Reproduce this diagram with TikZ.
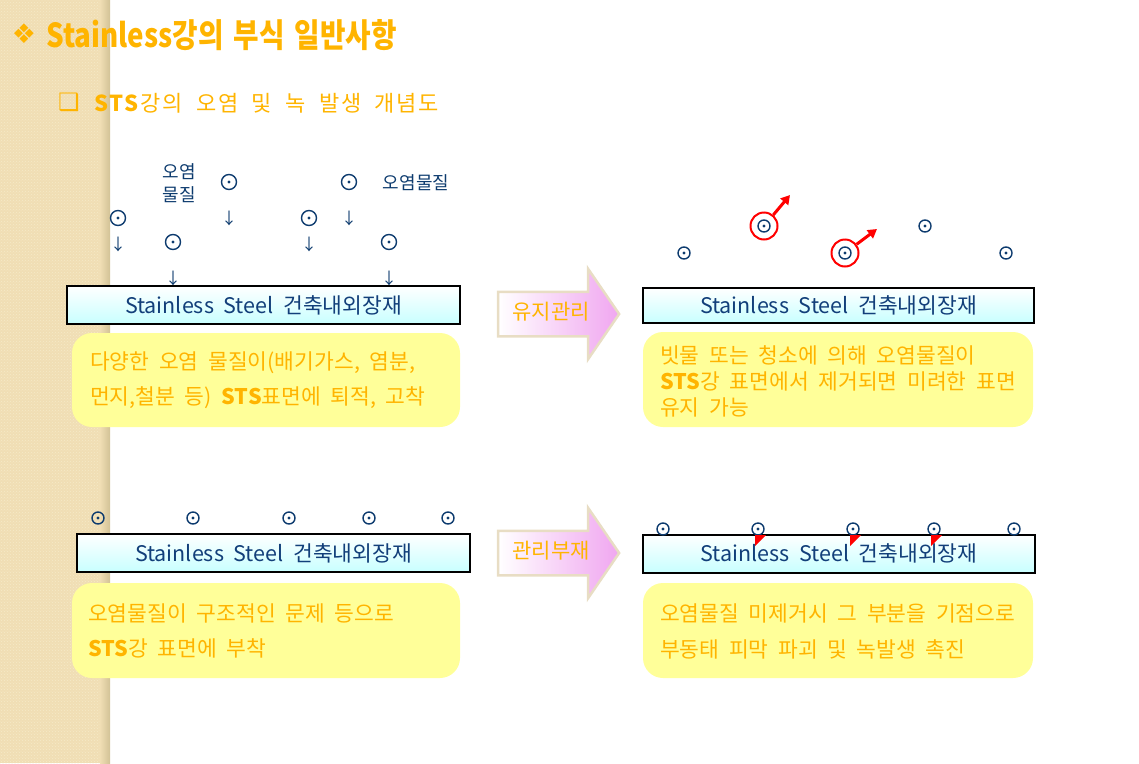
\documentclass[tikz,border=0pt]{standalone}
\usepackage{fontspec}
\setmainfont[WordSpace=2]{Noto Sans CJK KR}
\newfontfamily\titlefont[FakeStretch=0.84,WordSpace=1.6]{Noto Sans CJK KR}
\newfontfamily\subfont[WordSpace=2,LetterSpace=8]{Noto Sans CJK KR}
\newfontfamily\symfont{DejaVu Sans}
\usetikzlibrary{shapes.arrows,arrows.meta,patterns}

\definecolor{stsorange}{RGB}{255,180,0}
\definecolor{steelblue}{RGB}{18,63,122}
\definecolor{steelcyan}{RGB}{200,255,255}
\definecolor{dustblue}{RGB}{13,59,110}
\definecolor{notefill}{RGB}{255,255,153}
\definecolor{arrowpink}{RGB}{240,166,240}
\definecolor{arrowedge}{RGB}{232,221,196}
\definecolor{stripbeige}{RGB}{240,222,180}
\definecolor{stripdot}{RGB}{246,233,200}
\definecolor{stripedge}{RGB}{210,194,150}

\begin{document}
\begin{tikzpicture}[x=1pt,y=-1pt,
  steel/.style={draw=black, line width=2pt, shading=axis, top color=white, bottom color=steelcyan,
    inner sep=0pt, text=steelblue, font=\fontsize{21.5}{21.5}\selectfont},
  note/.style={fill=notefill, rounded corners=20pt, inner sep=0pt},
  notetext/.style={anchor=west, align=left, inner sep=0pt, text=stsorange},
  dust/.style={circle, draw=dustblue, line width=1.4pt, minimum size=12pt, inner sep=0pt,
    path picture={\fill[dustblue] (path picture bounding box.center) circle (1.6pt);}},
  bigdust/.style={dust, minimum size=15pt},
  fall/.style={inner sep=0pt, text=dustblue, font=\fontsize{16}{16}\selectfont},
  tag/.style={inner sep=0pt, align=center, text=dustblue, font=\fontsize{18}{23}\selectfont},
  stage/.style={single arrow, draw=arrowedge, line width=2.5pt, left color=white, right color=arrowpink,
    minimum height=121pt, single arrow head extend=23pt, single arrow tip angle=111,
    text height=13pt, text depth=3pt, inner ysep=13pt, text=stsorange, font=\fontsize{21}{21}\selectfont},
  wipe/.style={circle, draw=red, line width=2pt, minimum size=27pt, inner sep=0pt},
  lift/.style={-{Triangle[length=9pt,width=10pt]}, red, line width=3pt}
]
\useasboundingbox (0,0) rectangle (1139,763);

% left strip
\fill[stripbeige] (0,0) rectangle (110,763);
\fill[pattern=crosshatch dots, pattern color=stripdot] (0,0) rectangle (104,763);
\shade[left color=stripbeige, right color=stripedge] (100,0) rectangle (110,763);

% headings
\node[inner sep=0pt, text=stsorange, font=\symfont\bfseries\fontsize{27}{27}\selectfont] (mark1) at (24,34) {❖};
\node[anchor=west, inner sep=0pt, text=stsorange, font=\titlefont\bfseries\fontsize{33}{33}\selectfont] (title) at (46,35) {Stainless강의 부식 일반사항};
\node[inner sep=0pt, text=stsorange, font=\symfont\bfseries\fontsize{24}{24}\selectfont] (mark2) at (69,102) {❑};
\node[anchor=west, inner sep=0pt, text=stsorange, font=\subfont\fontsize{22}{22}\selectfont] (sub) at (94,103) {\textbf{STS}강의 오염 및 녹 발생 개념도};

% panel 1
\node[bigdust] (d1) at (118,218) {};
\node[bigdust] (d2) at (173,242) {};
\node[bigdust] (d3) at (229,182) {};
\node[bigdust] (d4) at (309,218) {};
\node[bigdust] (d5) at (349,182) {};
\node[bigdust] (d6) at (389,242) {};
\node[fall] (f1) at (118,244) {↓};
\node[fall] (f2) at (173,278) {↓};
\node[fall] (f3) at (229,218) {↓};
\node[fall] (f4) at (309,244) {↓};
\node[fall] (f5) at (349,218) {↓};
\node[fall] (f6) at (389,278) {↓};
\node[tag] (l1) at (179,183) {오염\\물질};
\node[tag] (l2) at (416,183) {오염물질};
\node[steel, minimum width=393pt, minimum height=38pt] (s1) at (263.5,305) {Stainless Steel 건축내외장재};
\node[note, minimum width=388pt, minimum height=94pt] (n1) at (266,380) {};
\node[notetext, font=\fontsize{21.5}{35}\selectfont] (t1) at (90,380) {다양한 오염 물질이(배기가스, 염분,\\먼지,철분 등) \textbf{STS}표면에 퇴적, 고착};

% stage arrows
\node[stage] (a1) at (551,314) {유지관리};
\node[stage] (a2) at (551,553) {관리부재};

% panel 2
\node[dust] (e1) at (684,253) {};
\node[dust] (e2) at (764,226) {};
\node[dust] (e3) at (845,253) {};
\node[dust] (e4) at (925,226) {};
\node[dust] (e5) at (1006,253) {};
\node[wipe] (w1) at (e2) {};
\node[wipe] (w2) at (e3) {};
\coordinate (w1end) at (790,195);
\coordinate (w2end) at (877,229);
\draw[lift] (w1) -- (w1end);
\draw[lift] (w2) -- (w2end);
\node[steel, minimum width=391pt, minimum height=35pt] (s2) at (838.5,305.5) {Stainless Steel 건축내외장재};
\node[note, minimum width=390pt, minimum height=95pt] (n2) at (838,379.5) {};
\node[notetext, font=\fontsize{21.5}{26}\selectfont] (t2) at (660,381) {빗물 또는 청소에 의해 오염물질이\\\textbf{STS}강 표면에서 제거되면 미려한 표면\\유지 가능};

% panel 3
\node[dust] (g1) at (98,518) {};
\node[dust] (g2) at (193,518) {};
\node[dust] (g3) at (289,518) {};
\node[dust] (g4) at (369,518) {};
\node[dust] (g5) at (448,518) {};
\node[steel, minimum width=393pt, minimum height=38pt] (s3) at (273.5,553) {Stainless Steel 건축내외장재};
\node[note, minimum width=388pt, minimum height=95pt] (n3) at (266,630.5) {};
\node[notetext, font=\fontsize{21.5}{35}\selectfont] (t3) at (88,630.5) {오염물질이 구조적인 문제 등으로\\\textbf{STS}강 표면에 부착};

% panel 4
\node[steel, minimum width=392pt, minimum height=38pt] (s4) at (839,553.5) {Stainless Steel 건축내외장재};
\node[dust] (h1) at (663,529) {};
\node[dust] (h2) at (758,529) {};
\node[dust] (h3) at (853,529) {};
\node[dust] (h4) at (934,529) {};
\node[dust] (h5) at (1014,529) {};
\foreach \px in {755,850,931}
  \fill[red] (\px,535) -- ++(11,0) -- ++(-11,11) -- cycle;
\node[note, minimum width=390pt, minimum height=95pt] (n4) at (838,630.5) {};
\node[notetext, font=\fontsize{21.5}{36}\selectfont] (t4) at (660,631) {오염물질 미제거시 그 부분을 기점으로\\부동태 피막 파괴 및 녹발생 촉진};
\end{tikzpicture}
\end{document}
